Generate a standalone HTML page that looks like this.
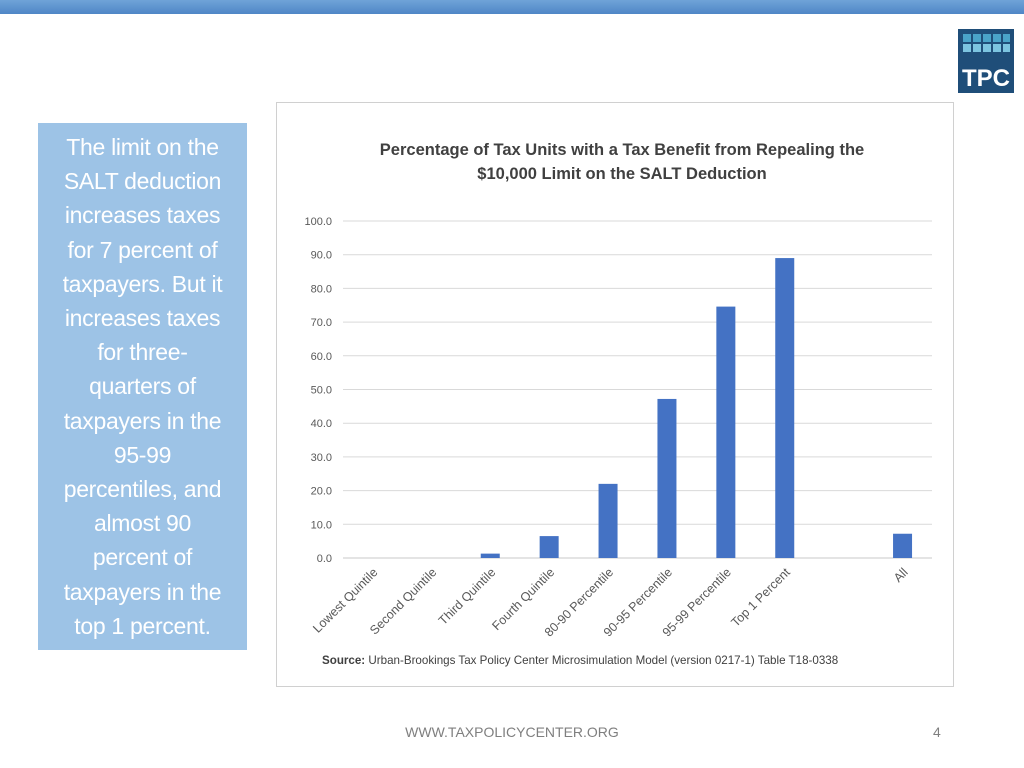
<!DOCTYPE html>
<html><head><meta charset="utf-8"><style>
body{margin:0;width:1024px;height:768px;background:#fff;position:relative;overflow:hidden;font-family:"Liberation Sans",sans-serif}
.topbar{position:absolute;left:0;top:0;width:1024px;height:14px;background:linear-gradient(#6fa3d8,#4f86c6)}
.side{position:absolute;left:38px;top:123px;width:209px;height:527px;background:#9dc3e6;color:#fff;font-size:23px;line-height:34.2px;text-align:center;padding-top:7px;box-sizing:border-box;white-space:nowrap;letter-spacing:-0.3px}
.chartbox{position:absolute;left:276px;top:102px;width:678px;height:585px;border:1px solid #d0d0d0;box-sizing:border-box}
.footer{position:absolute;left:0;width:1024px;top:724px;text-align:center;color:#7f7f7f;font-size:14px}
.pg{position:absolute;left:933px;top:724px;color:#7f7f7f;font-size:14px}
</style></head><body>
<div class="topbar"></div>
<svg style="position:absolute;left:958px;top:29px" width="56" height="64">
<rect width="56" height="64" fill="#1f4e79"/>
<g fill="#4aa3c8"><rect x="5" y="5" width="8" height="8"/><rect x="15" y="5" width="8" height="8"/><rect x="25" y="5" width="8" height="8"/><rect x="35" y="5" width="8" height="8"/><rect x="45" y="5" width="7" height="8"/>
<rect x="5" y="15" width="8" height="8" fill="#7cc4e0"/><rect x="15" y="15" width="8" height="8" fill="#7cc4e0"/><rect x="25" y="15" width="8" height="8" fill="#7cc4e0"/><rect x="35" y="15" width="8" height="8" fill="#7cc4e0"/><rect x="45" y="15" width="7" height="8" fill="#7cc4e0"/></g>
<text x="28" y="57" text-anchor="middle" fill="#fff" font-size="24" font-weight="bold" font-family="Liberation Sans">TPC</text></svg>
<div class="side">The limit on the<br>SALT deduction<br>increases taxes<br>for 7 percent of<br>taxpayers. But it<br>increases taxes<br>for three-<br>quarters of<br>taxpayers in the<br>95-99<br>percentiles, and<br>almost 90<br>percent of<br>taxpayers in the<br>top 1 percent.</div>
<div class="chartbox"></div>
<svg id="chart" style="position:absolute;left:0;top:0" width="1024" height="768" font-family="Liberation Sans">
<text x="622" y="155" text-anchor="middle" font-size="16.5" font-weight="bold" fill="#404040">Percentage of Tax Units with a Tax Benefit from Repealing the</text>
<text x="622" y="179" text-anchor="middle" font-size="16.5" font-weight="bold" fill="#404040">$10,000 Limit on the SALT Deduction</text>
<text x="322" y="664" font-size="11.6" fill="#404040"><tspan font-weight="bold">Source:</tspan> Urban-Brookings Tax Policy Center Microsimulation Model (version 0217-1) Table T18-0338</text>
</svg>
<div class="footer">WWW.TAXPOLICYCENTER.ORG</div>
<div class="pg">4</div>
<script>
const categories=["Lowest Quintile","Second Quintile","Third Quintile","Fourth Quintile","80-90 Percentile","90-95 Percentile","95-99 Percentile","Top 1 Percent","","All"];
const values=[0,0,1.3,6.5,22.0,47.2,74.6,89.0,null,7.2];
const yTicks=[0,10,20,30,40,50,60,70,80,90,100];
const svg=document.getElementById('chart');const NS='http://www.w3.org/2000/svg';
const x0=343,x1=932,y0=558,y1=221;
const band=(x1-x0)/categories.length;
const xs=i=>x0+band*(i+0.5);
const ys=v=>y0-(v/100)*(y0-y1);
function mk(t,a){const e=document.createElementNS(NS,t);for(const k in a)e.setAttribute(k,a[k]);svg.appendChild(e);return e;}
yTicks.forEach(t=>{
const g=mk('line',{x1:x0,x2:x1,y1:ys(t),y2:ys(t),stroke:t===0?'#c8c8c8':'#d9d9d9','stroke-width':1});


const l=mk('text',{x:332,y:ys(t)+4,'text-anchor':'end','font-size':11,fill:'#595959'});l.textContent=t.toFixed(1);


});
categories.forEach((c,i)=>{
if(values[i]!==null&&values[i]>0){const r=mk('rect',{x:xs(i)-9.5,y:ys(values[i]),width:19,height:y0-ys(values[i]),fill:'#4472c4'});

}
if(c){const t=mk('text',{x:xs(i)+6,y:573,'text-anchor':'end','font-size':12.5,fill:'#595959',transform:`rotate(-45 ${xs(i)+6} 573)`});t.textContent=c;

}
});
</script>
</body></html>
